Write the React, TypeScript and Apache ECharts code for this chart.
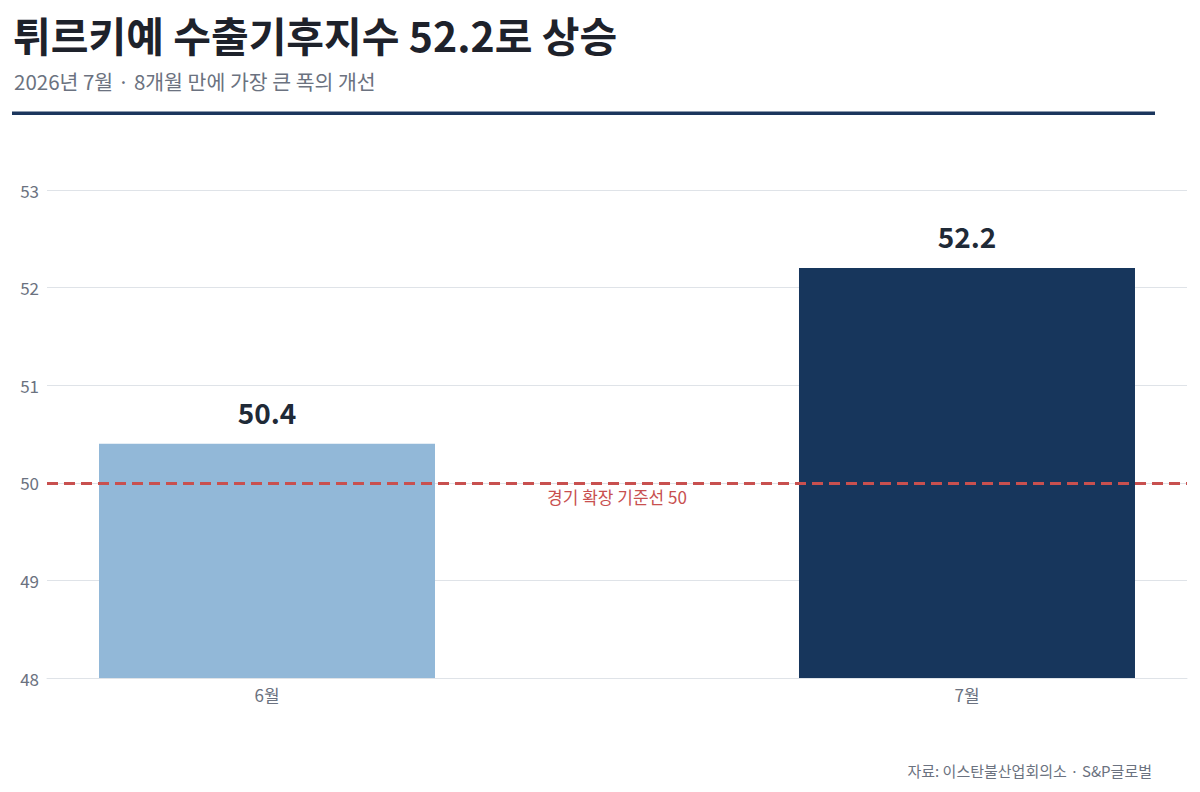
import { useEffect, useRef } from 'react';
import * as echarts from 'echarts';

// 데이터
const months = ['6월', '7월'];
const indexValues = [50.4, 52.2];
const barColors = ['#92b8d8', '#17365c'];
const threshold = 50;
const thresholdLabel = '경기 확장 기준선 50';

const titleText = '튀르키예 수출기후지수 52.2로 상승';
const subtitleText = '2026년 7월 · 8개월 만에 가장 큰 폭의 개선';
const sourceText = '자료: 이스탄불산업회의소 · S&P글로벌';

const FONT = '"Noto Sans CJK KR", "Noto Sans", sans-serif';

export default function App() {
    const chartRef = useRef<HTMLDivElement>(null);

    useEffect(() => {
        document.body.style.margin = '0';
        if (!chartRef.current) return;
        const chart = echarts.init(chartRef.current, null, { renderer: 'svg' });

        const option: echarts.EChartsOption = {
            animation: false,
            backgroundColor: '#ffffff',
            textStyle: { fontFamily: FONT },
            grid: { left: 47, right: 13, top: 190, bottom: 114 },
            graphic: [
                {
                    type: 'text',
                    style: {
                        text: titleText,
                        x: 13,
                        y: 34,
                        font: `bold 41px ${FONT}`,
                        fill: '#1e222b',
                        textVerticalAlign: 'middle'
                    }
                },
                {
                    type: 'text',
                    style: {
                        text: subtitleText,
                        x: 14,
                        y: 81,
                        font: `20.5px ${FONT}`,
                        fill: '#6b7280',
                        textVerticalAlign: 'middle'
                    }
                },
                {
                    type: 'rect',
                    shape: { x: 12, y: 111.5, width: 1143, height: 3.5 },
                    style: { fill: '#1b365d' }
                },
                {
                    type: 'text',
                    style: {
                        text: sourceText,
                        x: 1152,
                        y: 770,
                        font: `15px ${FONT}`,
                        fill: '#6b7280',
                        textAlign: 'right',
                        textVerticalAlign: 'middle'
                    }
                }
            ],
            xAxis: {
                type: 'value',
                min: -0.3143,
                max: 1.3143,
                splitLine: { show: false },
                axisTick: { show: false },
                axisLine: { show: true, lineStyle: { color: '#dfe3e8', width: 1 } },
                axisLabel: {
                    customValues: [0, 1],
                    formatter: (v: number) => months[Math.round(v)] ?? '',
                    color: '#6b7280',
                    fontSize: 17,
                    margin: 8
                }
            },
            yAxis: {
                type: 'value',
                min: 48,
                max: 53,
                interval: 1,
                axisLine: { show: false },
                axisTick: { show: false },
                splitLine: { lineStyle: { color: '#dfe3e8', width: 1 } },
                axisLabel: { color: '#6b7280', fontSize: 17, margin: 8 }
            },
            series: [
                {
                    type: 'bar',
                    barWidth: 336,
                    data: indexValues.map((v, i) => ({
                        value: [i, v],
                        itemStyle: { color: barColors[i] }
                    })),
                    label: {
                        show: true,
                        position: 'top',
                        distance: 18,
                        fontSize: 28,
                        fontWeight: 'bold',
                        color: '#1f2a37',
                        formatter: (p: any) => p.value[1].toFixed(1)
                    }
                },
                {
                    type: 'line',
                    data: [],
                    z: 10,
                    markLine: {
                        silent: true,
                        symbol: 'none',
                        lineStyle: { color: '#c8504f', type: [11, 6], width: 3 },
                        label: {
                            show: true,
                            position: 'insideMiddleBottom',
                            formatter: thresholdLabel,
                            color: '#c8504f',
                            fontSize: 17,
                            distance: 5
                        },
                        data: [{ yAxis: threshold }]
                    }
                }
            ]
        };

        chart.setOption(option);
        return () => chart.dispose();
    }, []);

    return <div ref={chartRef} style={{ width: 1200, height: 792 }} />;
}
